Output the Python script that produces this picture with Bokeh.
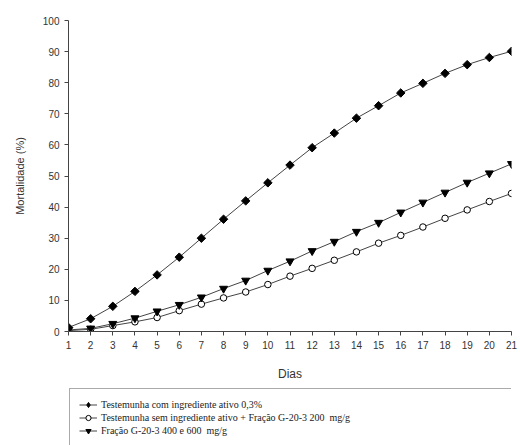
import math
from bokeh.plotting import figure
from bokeh.layouts import column
from bokeh.models import Legend, LegendItem, Range1d, FixedTicker
from bokeh.embed import file_html
from bokeh.resources import INLINE

days = list(range(1, 22))
com_ingrediente = [1.3, 4.1, 8.1, 12.9, 18.2, 23.9, 30.0, 36.1, 42.0, 47.8, 53.5,
                   59.1, 63.8, 68.6, 72.6, 76.7, 79.8, 83.0, 85.8, 88.1, 90.1]
sem_ingrediente = [0.3, 0.7, 1.9, 3.1, 4.5, 6.7, 8.8, 10.8, 12.7, 15.1, 17.8,
                   20.3, 22.9, 25.6, 28.4, 30.9, 33.6, 36.4, 39.1, 41.8, 44.4]
fracao_400_600 = [0.5, 1.0, 2.5, 4.3, 6.5, 8.6, 11.0, 13.8, 16.4, 19.6, 22.6,
                  25.9, 28.9, 32.1, 35.0, 38.3, 41.5, 44.7, 47.9, 50.9, 53.9]
labels = ["Testemunha com ingrediente ativo 0,3%",
          "Testemunha sem ingrediente ativo + Fração G-20-3 200  mg/g",
          "Fração G-20-3 400 e 600  mg/g"]
y_ticks = list(range(0, 101, 10))

line_col = "#444444"
font = "Liberation Sans"


def add_series(fig, in_legend=False):
    l1 = fig.line(days, com_ingrediente, line_color=line_col, line_width=1)
    if in_legend:
        s1 = fig.scatter(days, com_ingrediente, marker="diamond", size=9,
                         fill_color="black", line_color="black")
    else:
        s1 = fig.scatter(days, com_ingrediente, marker="square", size=6,
                         angle=math.pi / 4, fill_color="black", line_color="black")
    l2 = fig.line(days, sem_ingrediente, line_color=line_col, line_width=1)
    s2 = fig.scatter(days, sem_ingrediente, marker="circle", size=6.5,
                     fill_color="white", line_color="black", line_width=1)
    l3 = fig.line(days, fracao_400_600, line_color=line_col, line_width=1)
    s3 = fig.scatter(days, fracao_400_600, marker="inverted_triangle", size=8,
                     fill_color="black", line_color="black")
    return [[l1, s1], [l2, s2], [l3, s3]]


p = figure(width=520, height=387, output_backend="svg", toolbar_location=None,
           x_range=Range1d(1, 21), y_range=Range1d(0, 100),
           min_border_left=68, min_border_right=9, min_border_top=20,
           min_border_bottom=56)
p.outline_line_color = None
p.xgrid.visible = False
p.ygrid.visible = False

for ax in (p.xaxis[0], p.yaxis[0]):
    ax.axis_line_color = line_col
    ax.major_tick_line_color = line_col
    ax.minor_tick_line_color = None
    ax.major_tick_out = 4
    ax.major_tick_in = 0
    ax.major_label_text_font = font
    ax.major_label_text_font_size = "10px"
    ax.major_label_text_color = "#333333"
    ax.axis_label_text_font = font
    ax.axis_label_text_font_style = "normal"
    ax.axis_label_text_color = "#333333"

p.xaxis.ticker = FixedTicker(ticks=days)
p.yaxis.ticker = FixedTicker(ticks=y_ticks)
p.xaxis.axis_label = "Dias"
p.xaxis.axis_label_text_font_size = "12px"
p.xaxis.axis_label_standoff = 15
p.yaxis.axis_label = "Mortalidade (%)"
p.yaxis.axis_label_text_font_size = "11px"
p.yaxis.axis_label_standoff = 14

add_series(p)

# Legend strip below the chart (its own figure, data kept out of view)
pl = figure(width=520, height=58, output_backend="svg", toolbar_location=None,
            x_range=Range1d(100, 200), y_range=Range1d(0, 1),
            x_axis_location=None, y_axis_location=None,
            min_border_left=68, min_border_right=0, min_border_top=0,
            min_border_bottom=0)
pl.outline_line_color = None
pl.xgrid.visible = False
pl.ygrid.visible = False
rends = add_series(pl, in_legend=True)

legend = Legend(items=[LegendItem(label=labels[i], renderers=rends[i]) for i in range(3)],
                location="top_left", orientation="vertical",
                label_text_font="Liberation Serif", label_text_font_size="10px",
                label_text_color="#222222",
                label_height=13, glyph_height=13, glyph_width=18,
                label_standoff=4, spacing=0, padding=9, margin=1,
                label_width=460,
                border_line_color="#555555", border_line_width=1,
                background_fill_color="white", background_fill_alpha=1)
pl.add_layout(legend, "center")

layout = column(p, pl, spacing=0)
open("out.html", "w").write(file_html(layout, INLINE))
